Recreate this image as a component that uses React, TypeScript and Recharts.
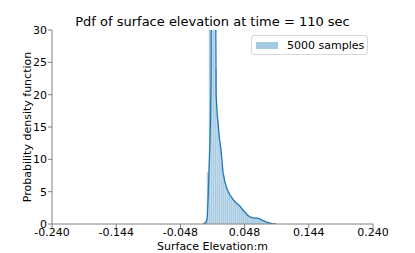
import { ComposedChart, Bar, Line, XAxis, YAxis, Legend } from "recharts";

// histogram bins (centre, density)
const binCenters = [
  -0.01, -0.007, -0.004, -0.001, 0.002, 0.005, 0.008, 0.011, 0.014, 0.017,
  0.02, 0.023, 0.026, 0.029, 0.032, 0.035, 0.038, 0.041, 0.044, 0.047,
  0.05, 0.053, 0.056, 0.059, 0.062, 0.065, 0.068, 0.071, 0.074, 0.077,
  0.08, 0.083, 0.086, 0.089,
];
const binDensity = [
  0.5, 8, 45, 90, 60, 24, 16, 12.5, 9.5, 7.5,
  6, 5, 4.5, 4, 3.6, 3.3, 3, 2.8, 2.5, 2,
  1.7, 1.4, 1.1, 1, 0.9, 1, 0.9, 0.7, 0.5, 0.4,
  0.3, 0.2, 0.1, 0.05,
];

// kde curve
const kdeX = [
  -0.014, -0.01, -0.008, -0.0065, -0.005, -0.004, -0.003, -0.0022, -0.0018, 0,
  0.003, 0.0048, 0.0054, 0.007, 0.0085, 0.01, 0.0127, 0.0157, 0.0185, 0.0217,
  0.026, 0.0307, 0.035, 0.041, 0.045, 0.0486, 0.053, 0.056, 0.062, 0.068,
  0.074, 0.081, 0.089, 0.095,
];
const kdeY = [
  0, 0.2, 0.8, 4, 9, 12, 16, 22, 35, 55,
  50, 33, 20, 17, 15.5, 13.5, 11.5, 8, 6.5, 5.4,
  4.5, 3.8, 3.3, 2.8, 2.2, 1.85, 1.3, 1.1, 0.9, 0.9,
  0.6, 0.3, 0.05, 0,
];

const xTicks = [-0.24, -0.144, -0.048, 0.048, 0.144, 0.24];
const yTicks = [0, 5, 10, 15, 20, 25, 30];
const seriesName = "5000 samples";

const histData = binCenters.map((x, i) => ({ x, density: binDensity[i] }));
const kdeData = kdeX.map((x, i) => ({ x, kde: kdeY[i] }));

const font = "DejaVu Sans";
const spine = "#808080";
const tickStyle = { fontSize: 11, fill: "#000", fontFamily: font };

function LegendBox() {
  return (
    <div
      style={{
        width: 115,
        height: 18,
        border: "1px solid #d8d8d8",
        borderRadius: 3,
        background: "rgba(255,255,255,0.8)",
        display: "flex",
        alignItems: "center",
        fontFamily: font,
        fontSize: 11,
        color: "#000",
      }}
    >
      <span
        style={{
          display: "inline-block",
          width: 22,
          height: 7,
          marginLeft: 4,
          marginRight: 9,
          background: "#a5c9e1",
        }}
      />
      {seriesName}
    </div>
  );
}

export default function App() {
  return (
    <div style={{ position: "absolute", left: 0, top: 0, width: 415, height: 253, background: "#fff", fontFamily: font }}>
      <div
        style={{
          position: "absolute",
          left: 52,
          width: 321,
          top: 15,
          fontSize: 13,
          lineHeight: "13px",
          textAlign: "center",
          color: "#000",
          whiteSpace: "nowrap",
        }}
      >
        Pdf of surface elevation at time = 110 sec
      </div>
      <ComposedChart
        width={415}
        height={253}
        data={histData}
        margin={{ top: 30, right: 42, bottom: 0, left: 12 }}
        barCategoryGap={0}
        barGap={0}
      >
        <XAxis
          dataKey="x"
          type="number"
          domain={[-0.24, 0.24]}
          ticks={xTicks}
          interval={0}
          allowDataOverflow
          tickFormatter={(v: number) => v.toFixed(3)}
          tick={tickStyle}
          tickSize={4}
          tickMargin={0}
          height={29}
          axisLine={{ stroke: spine }}
          tickLine={{ stroke: spine }}
          label={{ value: "Surface Elevation:m", position: "insideBottom", offset: 3, style: { fontSize: 11, fill: "#000", fontFamily: font } }}
        />
        {/* top spine, also carries the kde curve */}
        <XAxis
          xAxisId="top"
          orientation="top"
          dataKey="x"
          type="number"
          domain={[-0.24, 0.24]}
          allowDataOverflow
          tick={false}
          tickLine={false}
          height={0}
          axisLine={{ stroke: spine }}
        />
        <YAxis
          type="number"
          domain={[0, 30]}
          ticks={yTicks}
          interval={0}
          allowDataOverflow
          tick={tickStyle}
          tickSize={4}
          tickMargin={1}
          width={40}
          axisLine={{ stroke: spine }}
          tickLine={{ stroke: spine }}
          label={{
            value: "Probability density function",
            angle: -90,
            position: "insideLeft",
            offset: 15,
            style: { textAnchor: "middle", fontSize: 11, fill: "#000", fontFamily: font },
          }}
        />
        <YAxis
          yAxisId="right"
          orientation="right"
          type="number"
          domain={[0, 30]}
          tick={false}
          tickLine={false}
          width={0}
          axisLine={{ stroke: spine }}
        />
        <Legend
          layout="horizontal"
          verticalAlign="middle"
          align="center"
          wrapperStyle={{ left: 251, top: 35, width: 117, height: 20 }}
          content={() => <LegendBox />}
        />
        <Bar
          dataKey="density"
          name={seriesName}
          fill="#a5c9e1"
          stroke="#ffffff"
          strokeOpacity={0.5}
          strokeWidth={0.4}
          isAnimationActive={false}
        />
        <Line
          data={kdeData}
          xAxisId="top"
          dataKey="kde"
          type="linear"
          stroke="#1f77b4"
          strokeWidth={1.3}
          dot={false}
          legendType="none"
          isAnimationActive={false}
        />
      </ComposedChart>
    </div>
  );
}
